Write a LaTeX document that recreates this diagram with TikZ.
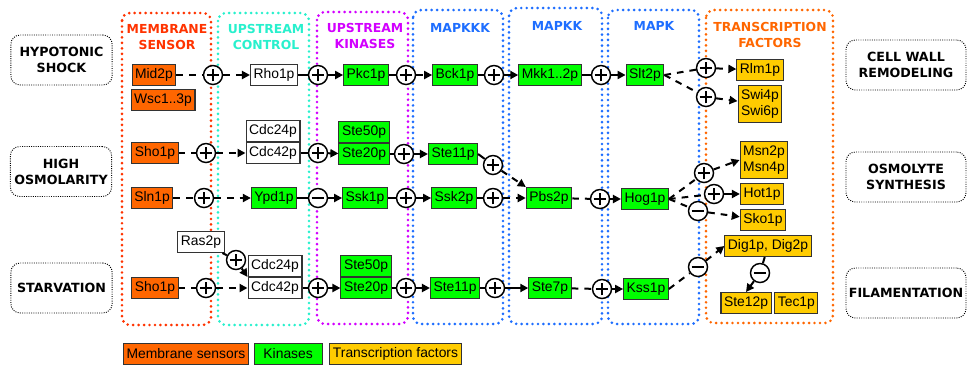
\documentclass[tikz,border=0pt]{standalone}
\usepackage{fontspec}
\setmainfont{Liberation Sans}
\newfontfamily\hdfont{DejaVu Sans}
\usetikzlibrary{arrows.meta, positioning}

\definecolor{sensorc}{RGB}{255,102,0}
\definecolor{kinasec}{RGB}{0,255,0}
\definecolor{tfc}{RGB}{255,204,0}
\definecolor{redgrp}{RGB}{255,51,0}
\definecolor{cyangrp}{RGB}{40,240,205}
\definecolor{maggrp}{RGB}{210,0,255}
\definecolor{bluegrp}{RGB}{30,110,255}
\definecolor{orangegrp}{RGB}{255,102,0}

\begin{document}
\begin{tikzpicture}[x=0.75pt, y=-0.75pt, line width=1.5pt, >={Triangle[length=6pt, width=6pt]},
    % boxes for the proteins
    prot/.style={draw=black!80, line width=0.8pt, font=\fontsize{10.4}{12}\selectfont, align=center, inner xsep=2.3pt, inner ysep=3pt, minimum height=15.75pt},
    sensor/.style={prot, fill=sensorc},
    kinase/.style={prot, fill=kinasec},
    tfac/.style={prot, fill=tfc},
    wbox/.style={prot, fill=white},
    % plus / minus signs
    sgn/.style={circle, draw, line width=1.1pt, fill=white, minimum size=14.25pt, inner sep=0pt},
    plusc/.style={sgn, path picture={\draw[line width=1.7pt] ([xshift=-4.8pt]path picture bounding box.center) -- ([xshift=4.8pt]path picture bounding box.center) ([yshift=-4.8pt]path picture bounding box.center) -- ([yshift=4.8pt]path picture bounding box.center);}},
    minusc/.style={sgn, path picture={\draw[line width=1.7pt] ([xshift=-4.8pt]path picture bounding box.center) -- ([xshift=4.8pt]path picture bounding box.center);}},
    dsh/.style={dash pattern=on 5pt off 4.5pt},
    grp/.style={line width=2.2pt, dash pattern=on 0pt off 4.1pt, line cap=round, rounded corners=6pt},
    hdr/.style={font=\hdfont\bfseries\fontsize{9.3}{12}\selectfont, align=center},
    cond/.style={draw, densely dotted, line width=0.7pt, rounded corners=7pt, minimum height=37.5pt, font=\hdfont\bfseries\fontsize{9.5}{12}\selectfont, align=center, inner sep=1pt}]

    \useasboundingbox (0,0) rectangle (967,365);

    % column frames
    \draw[grp, redgrp]    (122,13) rectangle (211,325);
    \draw[grp, cyangrp]   (218,13) rectangle (309,325);
    \draw[grp, maggrp]    (317,12) rectangle (408,324);
    \draw[grp, bluegrp]   (413,10) rectangle (503,324);
    \draw[grp, bluegrp]   (509,8)  rectangle (602,324);
    \draw[grp, bluegrp]   (608,10) rectangle (699,324);
    \draw[grp, orangegrp] (706,10) rectangle (833,323);

    \node[hdr, text=redgrp]    (hsens) at (167,37) {MEMBRANE\\SENSOR};
    \node[hdr, text=cyangrp]   (hctrl) at (266,37) {UPSTREAM\\CONTROL};
    \node[hdr, text=maggrp]    (hkin)  at (365,36) {UPSTREAM\\KINASES};
    \node[hdr, text=bluegrp]   (hkkk)  at (460,28) {MAPKKK};
    \node[hdr, text=bluegrp]   (hkk)   at (557,26) {MAPKK};
    \node[hdr, text=bluegrp]   (hk)    at (654,26) {MAPK};
    \node[hdr, text=orangegrp] (htf)   at (770,35) {TRANSCRIPTION\\FACTORS};

    % stimuli and responses
    \node[cond, minimum width=76pt] (hypo)  at (61.5,60)  {HYPOTONIC\\SHOCK};
    \node[cond, minimum width=76pt] (osmo)  at (61,171.5) {HIGH\\OSMOLARITY};
    \node[cond, minimum width=76pt] (starv) at (61.5,288) {STARVATION};
    \node[cond, minimum width=90pt] (wall)  at (906,65)  {CELL WALL\\REMODELING};
    \node[cond, minimum width=90pt] (osyn)  at (906,177) {OSMOLYTE\\SYNTHESIS};
    \node[cond, minimum width=90pt] (fila)  at (906,293) {FILAMENTATION};

    % cell wall pathway
    \node[sensor] (mid) at (154,75) {Mid2p};
    \node[sensor] (wsc) at (163,100) {Wsc1..3p};
    \node[plusc]  (r1a) at (213,75) {};
    \node[wbox]   (rho) at (274,75) {Rho1p};
    \node[plusc]  (r1b) at (318,75) {};
    \node[kinase] (pkc) at (366,75) {Pkc1p};
    \node[plusc]  (r1c) at (406,75) {};
    \node[kinase] (bck) at (455,75) {Bck1p};
    \node[plusc]  (r1d) at (494,75) {};
    \node[kinase] (mkk) at (550,75) {Mkk1..2p};
    \node[plusc]  (r1e) at (601,75) {};
    \node[kinase] (slt) at (645,75) {Slt2p};
    \node[plusc]  (r1f) at (706,68) {};
    \node[plusc]  (r1g) at (706,97) {};
    \node[tfac]   (rlm) at (760,70) {Rlm1p};
    \node[tfac]   (swi) at (760,104) {Swi4p\\Swi6p};

    \draw[dsh] (mid) -- (r1a);
    \draw[dsh, ->] (r1a) -- (rho);
    \draw (rho) -- (r1b);
    \draw[->] (r1b) -- (pkc);
    \draw (pkc) -- (r1c);
    \draw[dsh, ->] (r1c) -- (bck);
    \draw (bck) -- (r1d);
    \draw[->] (r1d) -- (mkk);
    \draw (mkk) -- (r1e);
    \draw[->] (r1e) -- (slt);
    \draw[dsh] (slt.east) -- (r1f);
    \draw[dsh, ->] (r1f) -- (rlm);
    \draw[dsh] (slt.east) -- (r1g);
    \draw[dsh, ->] (r1g) -- (swi);

    % high osmolarity, Sho1p branch
    \node[sensor] (sho) at (155,153) {Sho1p};
    \node[plusc]  (r2a) at (206,153) {};
    \node[wbox, minimum width=40pt] (cdc42a) at (273,153) {Cdc42p};
    \node[wbox, minimum width=40pt, above=0pt of cdc42a] (cdc24a) {Cdc24p};
    \node[plusc]  (r2b) at (318,153) {};
    \node[kinase] (ste20a) at (364,154) {Ste20p};
    \node[kinase, above=0pt of ste20a] (ste50a) {Ste50p};
    \node[plusc]  (r2c) at (404,154) {};
    \node[kinase] (ste11a) at (453,154) {Ste11p};
    \node[plusc]  (r2d) at (493,165) {};

    % high osmolarity, Sln1p branch
    \node[sensor] (sln)  at (152,198) {Sln1p};
    \node[plusc]  (r3a)  at (204,198) {};
    \node[kinase] (ypd)  at (274,198) {Ypd1p};
    \node[minusc] (r3b)  at (318,198) {};
    \node[kinase] (ssk1) at (365,198) {Ssk1p};
    \node[plusc]  (r3c)  at (406,198) {};
    \node[kinase] (ssk2) at (454,198) {Ssk2p};
    \node[plusc]  (r3d)  at (493,198) {};
    \node[kinase] (pbs)  at (549,198) {Pbs2p};
    \node[plusc]  (r3e)  at (600,199) {};
    \node[kinase] (hog)  at (645,199) {Hog1p};
    \node[plusc]  (r3f)  at (704,173) {};
    \node[plusc]  (r3g)  at (714,194) {};
    \node[minusc] (r3h)  at (698,211) {};
    \node[tfac]   (msn)  at (764,160) {Msn2p\\Msn4p};
    \node[tfac]   (hot)  at (762,194) {Hot1p};
    \node[tfac]   (sko)  at (763,220) {Sko1p};

    \draw[dsh] (sho) -- (r2a);
    \draw[dsh, ->] (r2a) -- (cdc42a);
    \draw (cdc42a) -- (r2b);
    \draw[->] (r2b) -- (ste20a);
    \draw (ste20a) -- (r2c);
    \draw[->] (r2c) -- (ste11a);
    \draw (ste11a.east) -- (r2d);
    \draw[dsh, ->] (r2d) -- (pbs.north west);

    \draw[dsh] (sln) -- (r3a);
    \draw[dsh, ->] (r3a) -- (ypd);
    \draw (ypd) -- (r3b);
    \draw[->] (r3b) -- (ssk1);
    \draw (ssk1) -- (r3c);
    \draw[->] (r3c) -- (ssk2);
    \draw (ssk2) -- (r3d);
    \draw[dsh, ->] (r3d) -- (pbs);
    \draw[dsh] (pbs) -- (r3e);
    \draw[->] (r3e) -- (hog);
    \draw[dsh] (hog.east) -- (r3f);
    \draw[dsh, ->] (r3f) -- (msn.west);
    \draw[dsh] (hog.east) -- (r3g);
    \draw[->] (r3g) -- (hot);
    \draw[dsh] (hog.east) -- (r3h);
    \draw[dsh, ->] (r3h) -- (sko);

    % starvation
    \node[wbox]   (ras)  at (201,242) {Ras2p};
    \node[plusc]  (r4a)  at (236,260) {};
    \node[sensor] (shob) at (155,288) {Sho1p};
    \node[plusc]  (r4b)  at (206,288) {};
    \node[wbox, minimum width=40pt] (cdc42b) at (275,288) {Cdc42p};
    \node[wbox, minimum width=40pt, above=0pt of cdc42b] (cdc24b) {Cdc24p};
    \node[plusc]  (r4c)  at (318,288) {};
    \node[kinase] (ste20b) at (366,288) {Ste20p};
    \node[kinase, above=0pt of ste20b] (ste50b) {Ste50p};
    \node[plusc]  (r4d)  at (406,288) {};
    \node[kinase] (ste11b) at (455,288) {Ste11p};
    \node[plusc]  (r4e)  at (495,288) {};
    \node[kinase] (ste7) at (550,288) {Ste7p};
    \node[plusc]  (r4f)  at (602,289) {};
    \node[kinase] (kss)  at (646,289) {Kss1p};
    \node[minusc] (r4g)  at (698,267) {};
    \node[tfac]   (dig)  at (768,246) {Dig1p, Dig2p};
    \node[minusc] (r4h)  at (760,273) {};
    \node[tfac]   (ste12) at (746,303) {Ste12p};
    \node[tfac, right=2pt of ste12] (tec) {Tec1p};

    \draw (ras) -- (r4a);
    \draw[->] (r4a) -- (cdc42b.north west);
    \draw[dsh] (shob) -- (r4b);
    \draw[dsh, ->] (r4b) -- (cdc42b);
    \draw (cdc42b) -- (r4c);
    \draw[->] (r4c) -- (ste20b);
    \draw (ste20b) -- (r4d);
    \draw[->] (r4d) -- (ste11b);
    \draw (ste11b) -- (r4e);
    \draw[->] (r4e) -- (ste7);
    \draw[dsh] (ste7) -- (r4f);
    \draw[->] (r4f) -- (kss);
    \draw[dsh] (kss.east) -- (r4g);
    \draw[dsh, ->] (r4g) -- (dig.west);
    \draw (dig) -- (r4h);
    \draw[->] (r4h) -- (ste12.north);

    % legend
    \node[sensor] (legsens) at (186,354) {Membrane sensors};
    \node[kinase, minimum width=51pt, right=3.5pt of legsens] (legkin) {Kinases};
    \node[tfac, right=5pt of legkin] (legtf) {Transcription factors};
\end{tikzpicture}
\end{document}
